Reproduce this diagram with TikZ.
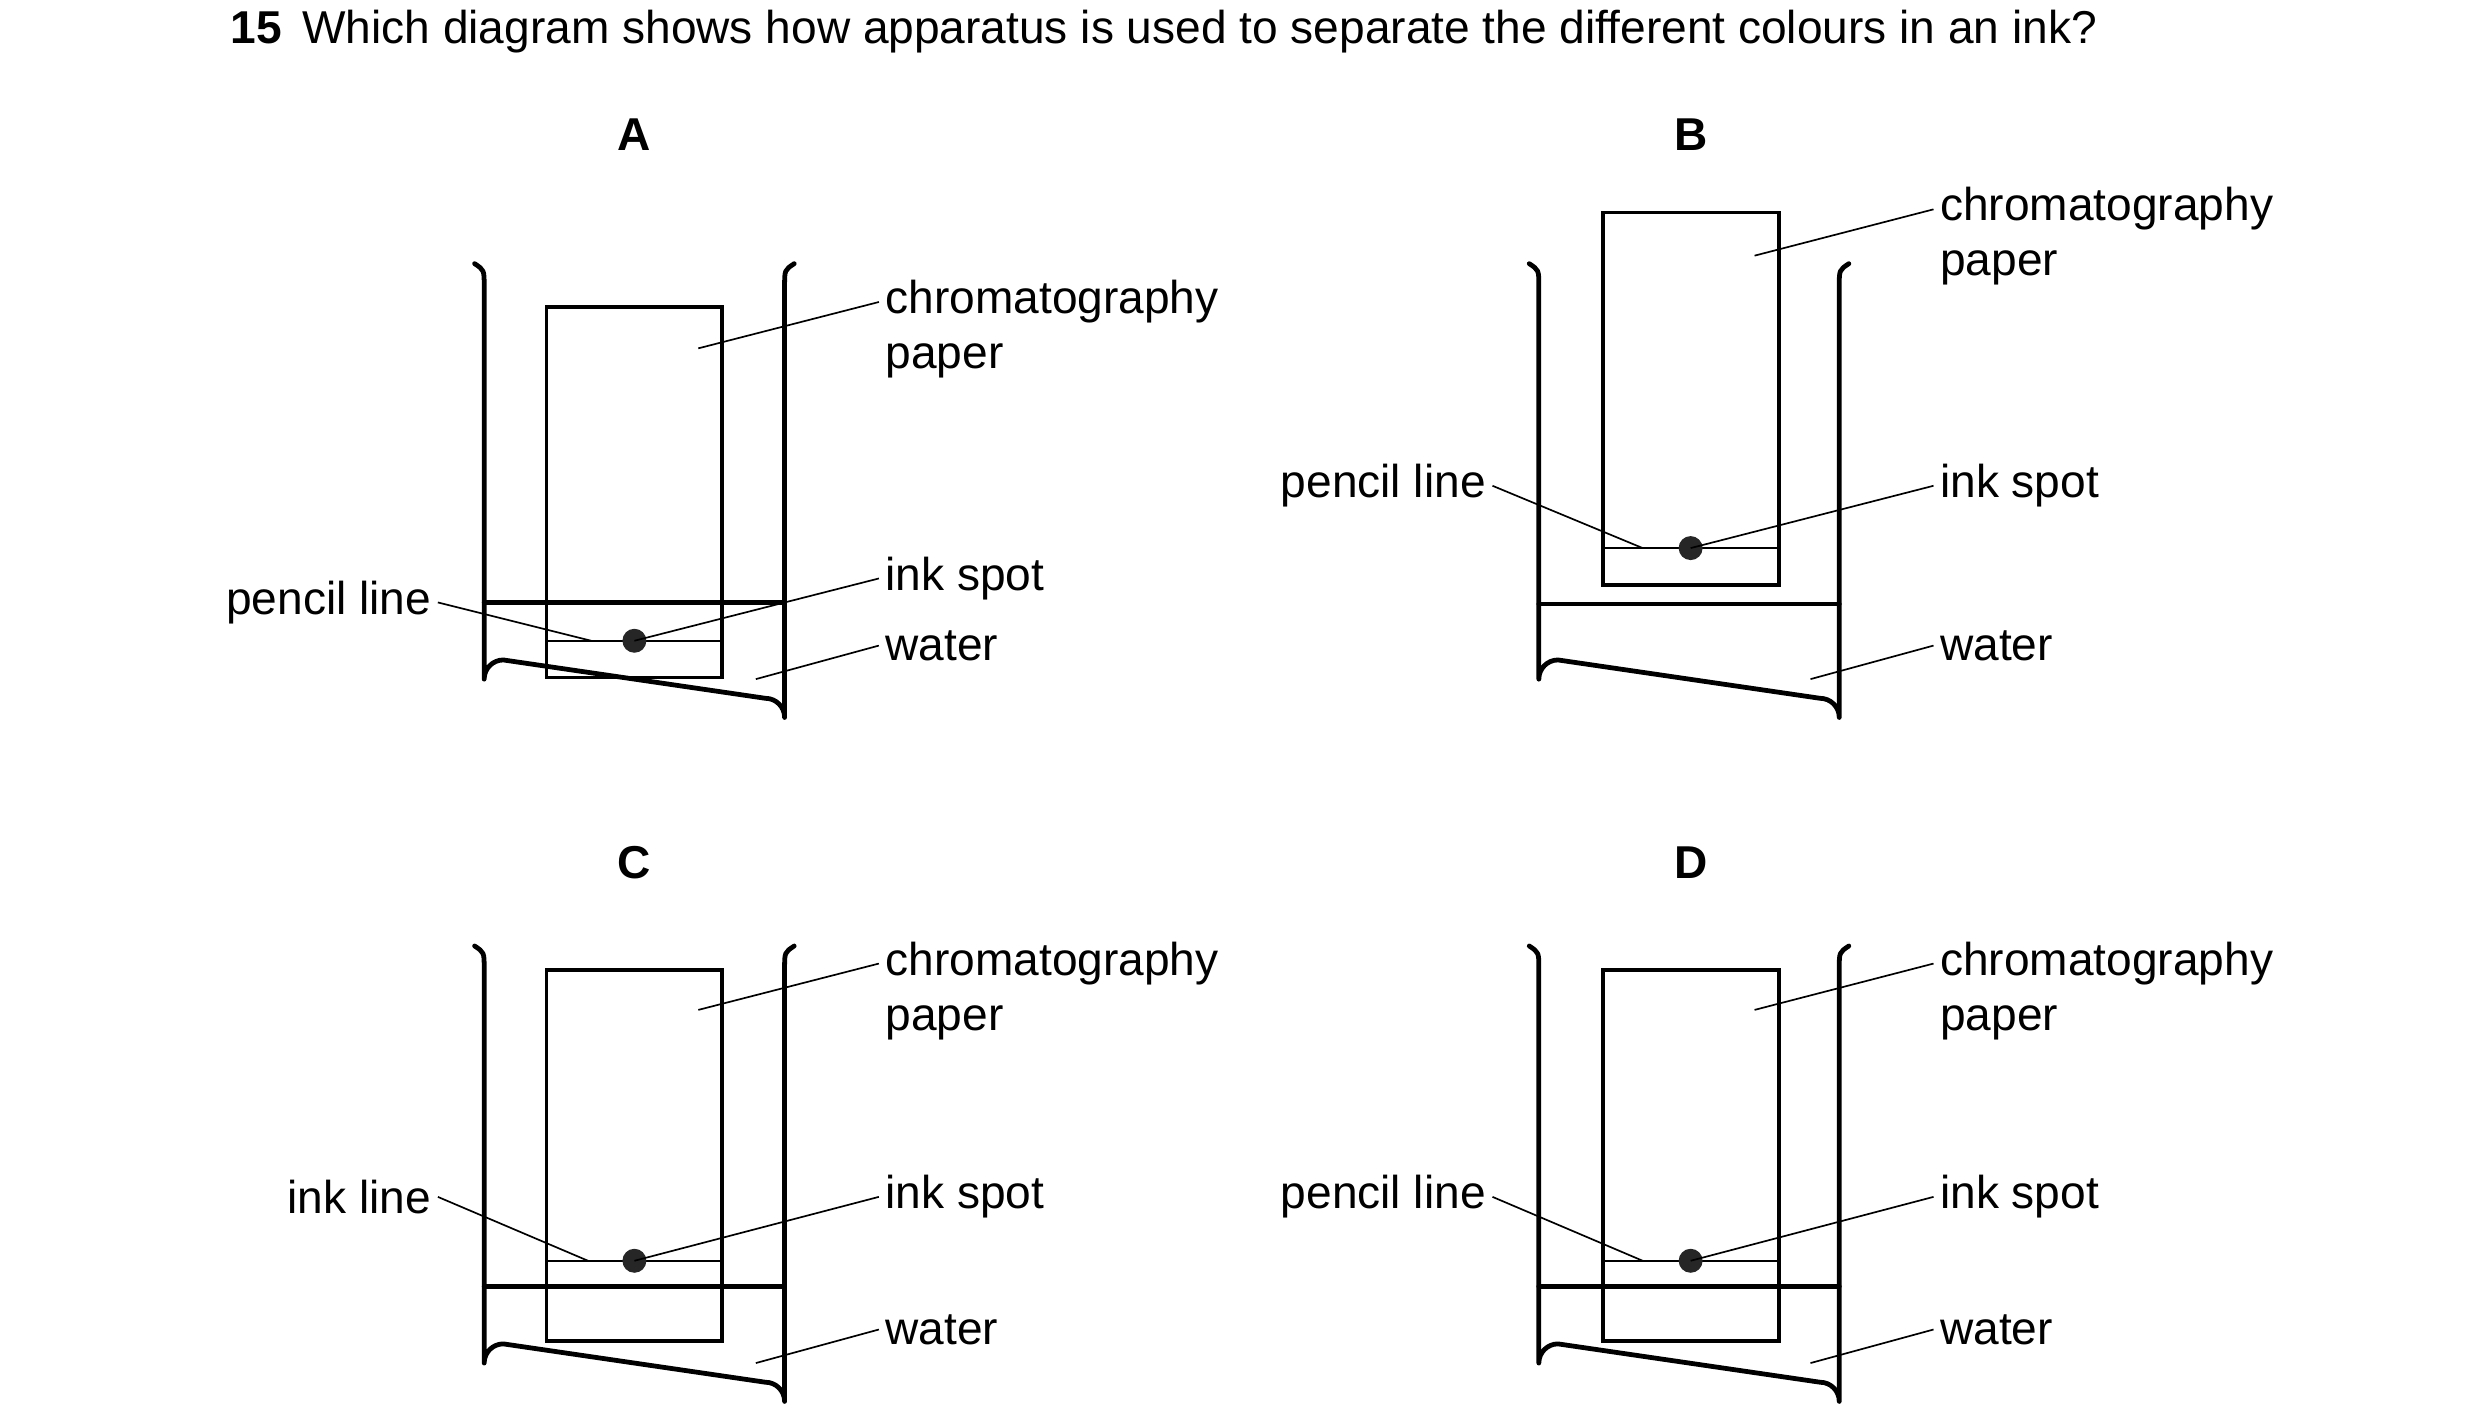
\documentclass[tikz,border=0pt]{standalone}
\usepackage{fontspec}
\setmainfont{Liberation Sans}
\usetikzlibrary{positioning}

% beaker: left x, right x, top y, bottom y
\newcommand\drawbeaker[4]{%
  \draw[beaker] (#1-6,#3) .. controls (#1,#3+4) .. (#1,#3+14) -- (#1,#4-12)
    arc[start angle=180,end angle=270,radius=12] -- (#2-12,#4)
    arc[start angle=270,end angle=360,radius=12] -- (#2,#3+14)
    .. controls (#2,#3+4) .. (#2+6,#3);}

\tikzset{
  beaker/.style={line width=0.85pt,line cap=round,line join=round},
  paper/.style={line width=0.7pt},
  leader/.style={line width=0.3pt},
  label/.style={inner sep=1pt,font=\fontsize{8.2}{9.8}\selectfont},
  letter/.style={font=\fontsize{8.2}{9.8}\selectfont\bfseries},
  spot/.style={fill=black!85}
}

\begin{document}
\begin{tikzpicture}[x=0.01cm,y=-0.01cm]
  \useasboundingbox (0,0) rectangle (1552,882);

  \node[letter,anchor=base west] (num) at (132,27) {15};
  \node[label,anchor=base west] (question) at (185,27)
    {Which diagram shows how apparatus is used to separate the different colours in an ink?};

  % A
  \node[letter] (tA) at (397,84) {A};
  \drawbeaker{303}{491}{165}{437}
  \draw[paper] (342,192) rectangle (452,424);
  \draw[beaker] (303,377) -- (491,377);
  \draw[leader] (342,401) -- (452,401);
  \fill[spot] (397,401) circle (7.5);
  \coordinate (dotA) at (397,401);
  \node[label,anchor=west,align=left] (chromA) at (550,206) {chromatography\\paper};
  \node[label,anchor=west] (spotA) at (550,362) {ink spot};
  \node[label,anchor=west] (waterA) at (550,404) {water};
  \node[label,anchor=east] (pencilA) at (274,377) {pencil line};
  \draw[leader] (437,218) -- (550,189);
  \draw[leader] (dotA) -- (spotA.west);
  \draw[leader] (473,425) -- (waterA.west);
  \draw[leader] (pencilA.east) -- (370,401);

  % B
  \node[letter] (tB) at (1058,84) {B};
  \drawbeaker{963}{1151}{165}{437}
  \draw[beaker] (963,378) -- (1151,378);
  \draw[paper] (1003,133) rectangle (1113,366);
  \draw[leader] (1003,343) -- (1113,343);
  \fill[spot] (1058,343) circle (7.5);
  \coordinate (dotB) at (1058,343);
  \node[label,anchor=west,align=left] (chromB) at (1210,148) {chromatography\\paper};
  \node[label,anchor=west] (spotB) at (1210,304) {ink spot};
  \node[label,anchor=west] (waterB) at (1210,404) {water};
  \node[label,anchor=east] (pencilB) at (934,304) {pencil line};
  \draw[leader] (1098,160) -- (1210,131);
  \draw[leader] (dotB) -- (spotB.west);
  \draw[leader] (1133,425) -- (waterB.west);
  \draw[leader] (pencilB.east) -- (1028,343);

  % C
  \node[letter] (tC) at (397,540) {C};
  \drawbeaker{303}{491}{592}{865}
  \draw[paper] (342,607) rectangle (452,839);
  \draw[beaker] (303,805) -- (491,805);
  \draw[leader] (342,789) -- (452,789);
  \fill[spot] (397,789) circle (7.5);
  \coordinate (dotC) at (397,789);
  \node[label,anchor=west,align=left] (chromC) at (550,620) {chromatography\\paper};
  \node[label,anchor=west] (spotC) at (550,749) {ink spot};
  \node[label,anchor=west] (waterC) at (550,832) {water};
  \node[label,anchor=east] (inkC) at (274,749) {ink line};
  \draw[leader] (437,632) -- (550,603);
  \draw[leader] (dotC) -- (spotC.west);
  \draw[leader] (473,853) -- (waterC.west);
  \draw[leader] (inkC.east) -- (368,789);

  % D
  \node[letter] (tD) at (1058,540) {D};
  \drawbeaker{963}{1151}{592}{865}
  \draw[paper] (1003,607) rectangle (1113,839);
  \draw[beaker] (963,805) -- (1151,805);
  \draw[leader] (1003,789) -- (1113,789);
  \fill[spot] (1058,789) circle (7.5);
  \coordinate (dotD) at (1058,789);
  \node[label,anchor=west,align=left] (chromD) at (1210,620) {chromatography\\paper};
  \node[label,anchor=west] (spotD) at (1210,749) {ink spot};
  \node[label,anchor=west] (waterD) at (1210,832) {water};
  \node[label,anchor=east] (pencilD) at (934,749) {pencil line};
  \draw[leader] (1098,632) -- (1210,603);
  \draw[leader] (dotD) -- (spotD.west);
  \draw[leader] (1133,853) -- (waterD.west);
  \draw[leader] (pencilD.east) -- (1028,789);
\end{tikzpicture}
\end{document}
